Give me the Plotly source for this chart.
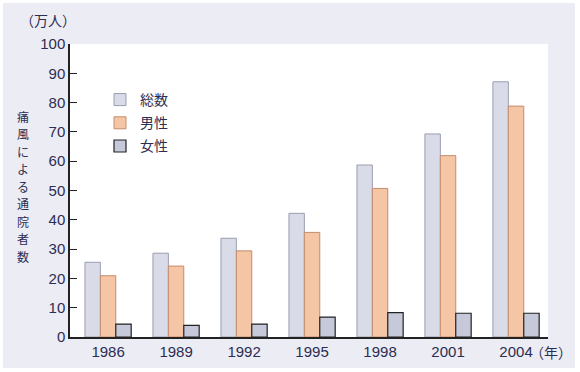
import plotly.graph_objects as go

years = ["1986", "1989", "1992", "1995", "1998", "2001", "2004"]
total = [25.5, 28.6, 33.7, 42.2, 58.7, 69.3, 87.1]
male = [20.9, 24.2, 29.4, 35.7, 50.7, 61.9, 78.8]
female = [4.4, 4.0, 4.4, 6.8, 8.3, 8.1, 8.1]
y_ticks = [0, 10, 20, 30, 40, 50, 60, 70, 80, 90, 100]
y_title = "痛風による通院者数"

TXT = "#2B2D52"
FONT = "Liberation Sans, Arial, sans-serif"
CJK = "Noto Sans CJK JP"

fig = go.Figure()
fig.add_bar(x=years, y=total, name="総数", legendgroup="a",
            marker=dict(color="#D9DCE8", line=dict(color="#9A9DB0", width=1)))
fig.add_bar(x=years, y=male, name="男性", legendgroup="b",
            marker=dict(color="#F5C6A6", line=dict(color="#C48C6C", width=1)))
fig.add_bar(x=years, y=female, name="女性", legendgroup="c",
            marker=dict(color="#C6C9D9", line=dict(color="#222222", width=1.2)))

shapes = [
    dict(type="rect", xref="paper", yref="paper", x0=-67/478, x1=(575-70)/478,
         y0=-(368-337)/293, y1=(337-3)/293, fillcolor="#ECECF4", line=dict(width=0), layer="below"),
    dict(type="rect", xref="x domain", yref="y domain", x0=0, x1=1, y0=0, y1=1,
         fillcolor="white", line=dict(width=0), layer="below"),
]

annotations = [
    dict(text="（万人）", xref="paper", yref="paper", x=-22/478, y=(337-20)/293,
         showarrow=False, font=dict(family=CJK, size=14, color=TXT), xanchor="center", yanchor="middle"),
    dict(text="（年）", xref="paper", yref="paper", x=(551-70)/478, y=-(352-337)/293,
         showarrow=False, font=dict(family=CJK, size=14, color=TXT), xanchor="center", yanchor="middle"),
]
n = len(y_title)
for i, ch in enumerate(y_title):
    yc = 186 + (i - (n - 1) / 2) * 17.5
    annotations.append(dict(text=ch, xref="paper", yref="paper", x=-(70-23)/478, y=(337-yc)/293,
                            showarrow=False, font=dict(family=CJK, size=12, color=TXT),
                            xanchor="center", yanchor="middle"))

fig.update_layout(
    width=580, height=372,
    margin=dict(l=70, r=32, t=44, b=35),
    paper_bgcolor="white", plot_bgcolor="rgba(0,0,0,0)",
    barmode="group", bargap=0.32, bargroupgap=0,
    shapes=shapes, annotations=annotations,
    legend=dict(x=(100-70)/478, y=(337-84)/293, xanchor="left", yanchor="top",
                font=dict(family=CJK, size=14, color=TXT), bgcolor="rgba(0,0,0,0)",
                tracegroupgap=2, itemwidth=30),
    xaxis=dict(type="category", range=[-0.56, 6.47], showline=True, linecolor="#222222", linewidth=1.5,
               ticks="", tickfont=dict(family=FONT, size=15, color=TXT), showgrid=False),
    yaxis=dict(range=[0, 100], tickvals=y_ticks, showline=True, linecolor="#222222", linewidth=1.5,
               ticks="inside", ticklen=7, tickcolor="#222222", tickwidth=1.2,
               tickfont=dict(family=FONT, size=15, color=TXT), showgrid=False, zeroline=False),
)

fig.write_html("out.html", config={"displayModeBar": False},
               post_script="document.body.style.margin='0';document.body.style.padding='0';")
